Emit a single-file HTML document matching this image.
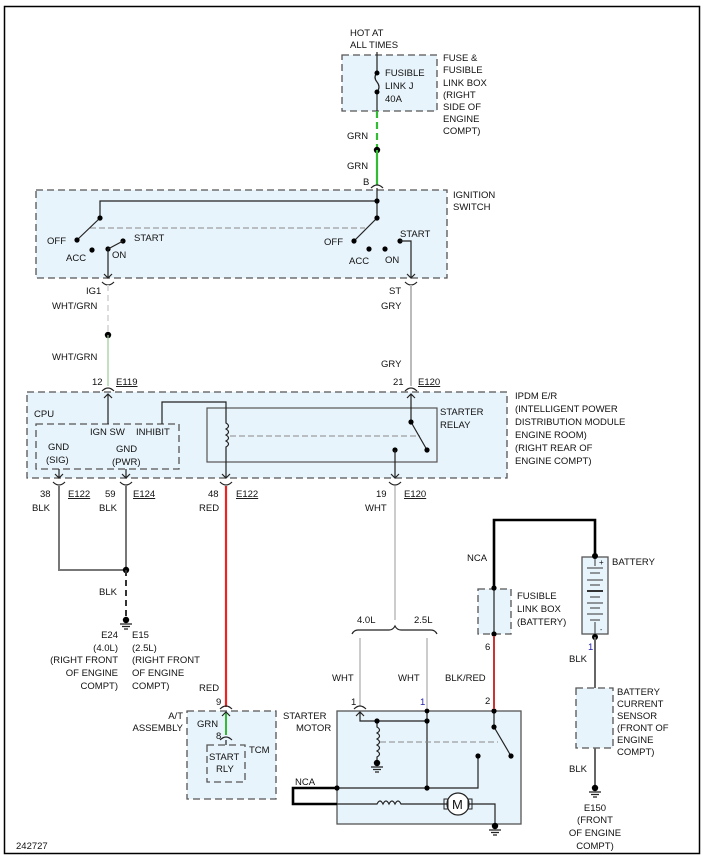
<!DOCTYPE html>
<html><head><meta charset="utf-8"><style>
html,body{margin:0;padding:0;background:#fff}
svg{display:block}
text{font-family:"Liberation Sans",Arial,sans-serif;font-size:9.5px;fill:#111}
.u{text-decoration:underline}
.bx{fill:#e8f4fb;stroke:#555;stroke-width:1.3;stroke-dasharray:7,4}
.sb{fill:#e8f4fb;stroke:#555;stroke-width:1.3}
.w{fill:none;stroke:#222;stroke-width:1.2}
.g{fill:none;stroke:#777;stroke-width:2}
</style></head><body>
<svg width="706" height="856" viewBox="0 0 706 856" xmlns="http://www.w3.org/2000/svg">
<rect x="4.5" y="6.5" width="695" height="847" fill="#fff" stroke="#000" stroke-width="1.5"/>

<!-- fuse box -->
<rect class="bx" x="342" y="55" width="95" height="56"/>
<line class="w" x1="377" y1="52" x2="377" y2="73"/>
<path class="w" d="M377 73 q-4 4 0 9 q4 5 0 10"/>
<line class="w" x1="377" y1="92" x2="377" y2="111"/>
<circle cx="377" cy="73" r="2.5"/><circle cx="377" cy="92" r="2.5"/>
<text x="385" y="76">FUSIBLE</text><text x="385" y="89">LINK J</text><text x="385" y="102">40A</text>
<text x="350" y="36">HOT AT</text><text x="350" y="48">ALL TIMES</text>
<text x="443" y="61">FUSE &amp;</text><text x="443" y="73">FUSIBLE</text><text x="443" y="86">LINK BOX</text><text x="443" y="98">(RIGHT</text><text x="443" y="110">SIDE OF</text><text x="443" y="122">ENGINE</text><text x="443" y="134">COMPT)</text>
<line x1="377" y1="111" x2="377" y2="150" stroke="#3b3" stroke-width="2.2" stroke-dasharray="7,4"/>
<circle cx="377" cy="150" r="3.2"/>
<line x1="377" y1="150" x2="377" y2="185" stroke="#3b3" stroke-width="2.2"/>
<text x="347" y="139">GRN</text><text x="347" y="169">GRN</text><text x="363" y="185">B</text>
<path class="w" d="M371 188 q6 -6 12 0"/>

<!-- ignition switch -->
<rect class="bx" x="36" y="190" width="411" height="88"/>
<path class="w" d="M377 188 V201 H100 V218"/>
<line class="w" x1="377" y1="201" x2="377" y2="218"/>
<line x1="90" y1="228" x2="365" y2="228" stroke="#888" stroke-width="1" stroke-dasharray="6,3"/>
<line class="w" x1="100" y1="218" x2="77" y2="240"/>
<line class="w" x1="377" y1="218" x2="354" y2="241"/>
<circle cx="100" cy="218" r="2.6"/><circle cx="77" cy="240" r="2.6"/><circle cx="92" cy="250" r="2.6"/><circle cx="108" cy="249" r="2.6"/><circle cx="123" cy="241" r="2.6"/>
<circle cx="377" cy="201" r="2.6"/><circle cx="377" cy="218" r="2.6"/><circle cx="354" cy="241" r="2.6"/><circle cx="369" cy="249" r="2.6"/><circle cx="385" cy="249" r="2.6"/><circle cx="400" cy="241" r="2.6"/>
<line class="w" x1="108" y1="249" x2="123" y2="241"/>
<path class="w" d="M108 249 V278 M104 274 l4 4 4-4"/>
<path class="w" d="M400 241 H411 V278 M407 274 l4 4 4-4"/>
<text x="47" y="244">OFF</text><text x="66" y="261">ACC</text><text x="112" y="258">ON</text><text x="134" y="241">START</text>
<text x="324" y="245">OFF</text><text x="349" y="264">ACC</text><text x="385" y="263">ON</text><text x="400" y="237">START</text>
<text x="453" y="198">IGNITION</text><text x="453" y="210">SWITCH</text>
<path class="w" d="M102 282 q6 6 12 0 M405 282 q6 6 12 0"/>

<!-- IG1 / ST wires -->
<line x1="108" y1="285" x2="108" y2="335" stroke="#ddd" stroke-width="2" stroke-dasharray="6,4"/>
<circle cx="108" cy="335" r="3.2"/>
<line x1="108" y1="335" x2="108" y2="386" stroke="#9c9" stroke-width="1.2"/>
<line x1="411" y1="285" x2="411" y2="386" stroke="#bbb" stroke-width="2"/>
<text x="86" y="294">IG1</text><text x="52" y="309">WHT/GRN</text><text x="52" y="360">WHT/GRN</text>
<text x="92" y="385">12</text><text x="116" y="385" class="u">E119</text>
<text x="389" y="294">ST</text><text x="381" y="309">GRY</text><text x="381" y="367">GRY</text>
<text x="393" y="385">21</text><text x="418" y="385" class="u">E120</text>
<path class="w" d="M102 391 q6 -6 12 0 M405 391 q6 -6 12 0"/>

<!-- IPDM -->
<rect class="bx" x="27" y="392" width="480" height="86"/>
<text x="34" y="417">CPU</text>
<rect class="bx" x="36" y="424" width="143" height="45"/>
<path class="w" d="M108 424 V394 M104 398 l4 -4 4 4"/>
<text x="90" y="435">IGN SW</text><text x="136" y="435">INHIBIT</text>
<text x="48" y="450">GND</text><text x="46" y="463">(SIG)</text>
<text x="116" y="452">GND</text><text x="112" y="465">(PWR)</text>
<rect x="207" y="408" width="230" height="54" fill="none" stroke="#555" stroke-width="1.2"/>
<path class="w" d="M162 424 V402 H226 V423 q5 3 0 6 q5 3 0 6 q5 3 0 6 q5 3 0 6 V478"/>
<line x1="230" y1="436" x2="420" y2="436" stroke="#888" stroke-width="1" stroke-dasharray="6,3"/>
<path class="w" d="M411 394 V422 L427 450 M407 398 l4 -4 4 4"/>
<circle cx="411" cy="422" r="2.6"/><circle cx="427" cy="450" r="2.6"/><circle cx="395" cy="450" r="2.6"/>
<line class="w" x1="395" y1="450" x2="395" y2="478"/>
<text x="440" y="415">STARTER</text><text x="440" y="428">RELAY</text>
<text x="515" y="399">IPDM E/R</text><text x="515" y="412">(INTELLIGENT POWER</text><text x="515" y="425">DISTRIBUTION MODULE</text><text x="515" y="438">ENGINE ROOM)</text><text x="515" y="451">(RIGHT REAR OF</text><text x="515" y="464">ENGINE COMPT)</text>
<path class="w" d="M59 469 V478 M55 474 l4 4 4-4 M126 469 V478 M122 474 l4 4 4-4 M222 474 l4 4 4-4 M391 474 l4 4 4-4"/>
<path class="w" d="M53 482 q6 6 12 0 M120 482 q6 6 12 0 M220 482 q6 6 12 0 M389 482 q6 6 12 0"/>

<text x="40" y="497">38</text><text x="68" y="497" class="u">E122</text><text x="105" y="497">59</text><text x="133" y="497" class="u">E124</text>
<text x="208" y="497">48</text><text x="236" y="497" class="u">E122</text><text x="376" y="497">19</text><text x="404" y="497" class="u">E120</text>
<text x="32" y="511">BLK</text><text x="99" y="511">BLK</text><text x="199" y="511">RED</text><text x="365" y="511">WHT</text>

<!-- grounds -->
<path class="g" d="M59 486 V570 H126 M126 486 V570"/>
<circle cx="126" cy="570" r="3.2"/>
<line x1="126" y1="570" x2="126" y2="620" stroke="#333" stroke-width="2" stroke-dasharray="6,4"/>
<circle cx="126" cy="620" r="3.2"/>
<path class="w" d="M120 624 h12 M122 626.5 h8 M124 629 h4"/>
<text x="99" y="595">BLK</text>
<g text-anchor="end"><text x="118" y="638">E24</text><text x="118" y="651">(4.0L)</text><text x="118" y="663">(RIGHT FRONT</text><text x="118" y="676">OF ENGINE</text><text x="118" y="689">COMPT)</text></g>
<text x="132" y="638">E15</text><text x="132" y="651">(2.5L)</text><text x="132" y="663">(RIGHT FRONT</text><text x="132" y="676">OF ENGINE</text><text x="132" y="689">COMPT)</text>

<!-- red wire & TCM -->
<line x1="226" y1="486" x2="226" y2="707" stroke="#e22" stroke-width="2.2"/>
<text x="199" y="691">RED</text><text x="216" y="705">9</text>
<path class="w" d="M220 709 q6 -6 12 0"/>
<rect class="bx" x="187" y="711" width="89" height="88"/>
<line x1="226" y1="712" x2="226" y2="735" stroke="#3b3" stroke-width="2"/>
<path class="w" d="M222 716 l4 -4 4 4 M220 740 q6 -6 12 0 M226 740 V745"/>
<text x="197" y="727">GRN</text><text x="216" y="739">8</text>
<rect class="bx" x="207" y="745" width="38" height="37"/>
<text x="209" y="760">START</text><text x="216" y="772">RLY</text><text x="249" y="753">TCM</text>
<g text-anchor="end"><text x="183" y="719">A/T</text><text x="183" y="731">ASSEMBLY</text></g>

<!-- WHT wires and brace -->
<line x1="395" y1="486" x2="395" y2="620" stroke="#ccc" stroke-width="2"/>
<path class="w" d="M352 634 q2 -4 6 -4 H389 q4 0 6 -4 q2 4 6 4 H431 q4 0 6 4"/>
<text x="357" y="623">4.0L</text><text x="414" y="623">2.5L</text>
<line x1="360" y1="638" x2="360" y2="706" stroke="#ccc" stroke-width="2"/>
<line x1="427" y1="638" x2="427" y2="709" stroke="#ccc" stroke-width="2"/>
<text x="332" y="681">WHT</text><text x="398" y="681">WHT</text>
<text x="351" y="705">1</text><text x="420" y="705" style="fill:#22a">1</text>
<path class="w" d="M354 709 q6 -6 12 0"/>

<!-- starter motor -->
<rect class="sb" x="337" y="711" width="184" height="113"/>
<text x="283" y="719">STARTER</text><text x="296" y="731">MOTOR</text>
<path class="w" d="M356 716 l4 -4 4 4 M360 712 V721 H427 M427 709 V788 M377 721 V727 q5 3 0 6 q5 3 0 6 q5 3 0 6 q5 3 0 6 q5 3 0 6 V763 M337 788 H478 V756"/>
<circle cx="377" cy="721" r="2.6"/><circle cx="427" cy="721" r="2.6"/><circle cx="427" cy="711" r="2.4"/><circle cx="427" cy="788" r="2.6"/><circle cx="478" cy="756" r="2.6"/><circle cx="337" cy="788" r="2.6"/>
<circle cx="377" cy="763" r="3.2"/><path class="w" d="M371 767 h12 M373 769.5 h8 M375 772 h4"/>
<line x1="380" y1="742" x2="498" y2="742" stroke="#888" stroke-width="1" stroke-dasharray="6,3"/>
<path class="w" d="M494 711 V727 L511 756"/>
<circle cx="494" cy="711" r="2.6"/><circle cx="494" cy="727" r="2.6"/><circle cx="511" cy="756" r="2.6"/>
<path d="M337 788 H293 V804 H337" fill="none" stroke="#000" stroke-width="2.6"/>
<path class="w" d="M337 804 H377 q3 -6 6 0 q3 -6 6 0 q3 -6 6 0 q3 -6 6 0 H447 M469 804 H495 V824"/>
<circle cx="458" cy="804" r="11" fill="#fff" stroke="#222" stroke-width="1.2"/>
<rect x="444" y="799" width="4" height="10" fill="none" stroke="#222"/><rect x="468" y="799" width="4" height="10" fill="none" stroke="#222"/>
<text x="452" y="809" style="font-size:13px">M</text>
<circle cx="495" cy="826" r="3.2"/><path class="w" d="M489 830 h12 M491 832.5 h8 M493 835 h4"/>
<text x="295" y="785">NCA</text>

<!-- fusible link battery -->
<path d="M494 588 V520 H595 V556" fill="none" stroke="#000" stroke-width="2.6"/>
<text x="467" y="561">NCA</text>
<rect class="bx" x="478" y="589" width="33" height="45"/>
<line class="w" x1="494" y1="588" x2="494" y2="634"/>
<circle cx="494" cy="588" r="2.6"/><circle cx="494" cy="634" r="2.6"/>
<line x1="494" y1="636" x2="494" y2="709" stroke="#c33" stroke-width="2"/>
<text x="517" y="599">FUSIBLE</text><text x="517" y="612">LINK BOX</text><text x="517" y="625">(BATTERY)</text>
<text x="485" y="650">6</text><text x="485" y="704">2</text><text x="445" y="681">BLK/RED</text>

<!-- battery -->
<rect class="sb" x="582" y="557" width="26" height="77"/>
<g stroke="#333" stroke-width="1">
<line x1="595" y1="557" x2="595" y2="566"/>
<line x1="587" y1="568" x2="603" y2="568"/><line x1="590" y1="573" x2="600" y2="573"/>
<line x1="587" y1="580" x2="603" y2="580"/><line x1="590" y1="585" x2="600" y2="585"/>
<line x1="587" y1="591" x2="603" y2="591" stroke-width="2"/><line x1="590" y1="597" x2="600" y2="597"/>
<line x1="587" y1="603" x2="603" y2="603"/><line x1="590" y1="608" x2="600" y2="608"/>
<line x1="587" y1="614" x2="603" y2="614"/><line x1="590" y1="620" x2="600" y2="620"/>
<line x1="595" y1="622" x2="595" y2="634"/>
</g>
<text x="599" y="565" style="font-size:8px">+</text><text x="600" y="632" style="font-size:7px">-</text>
<circle cx="595" cy="556" r="3"/><circle cx="595" cy="637" r="3"/>
<text x="612" y="565">BATTERY</text>
<line x1="595" y1="637" x2="595" y2="688" stroke="#666" stroke-width="2"/>
<text x="588" y="650" style="fill:#22a">1</text><text x="569" y="662">BLK</text>
<rect class="bx" x="576" y="688" width="37" height="60"/>
<text x="617" y="695">BATTERY</text><text x="617" y="707">CURRENT</text><text x="617" y="719">SENSOR</text><text x="617" y="731">(FRONT OF</text><text x="617" y="743">ENGINE</text><text x="617" y="755">COMPT)</text>
<line x1="595" y1="748" x2="595" y2="786" stroke="#666" stroke-width="2"/>
<text x="569" y="772">BLK</text>
<circle cx="595" cy="788" r="3.2"/><path class="w" d="M589 792 h12 M591 794.5 h8 M593 797 h4"/>
<g text-anchor="middle"><text x="595" y="811">E150</text><text x="595" y="823">(FRONT</text><text x="595" y="836">OF ENGINE</text><text x="595" y="849">COMPT)</text></g>
<text x="16" y="849">242727</text>
</svg>
</body></html>
